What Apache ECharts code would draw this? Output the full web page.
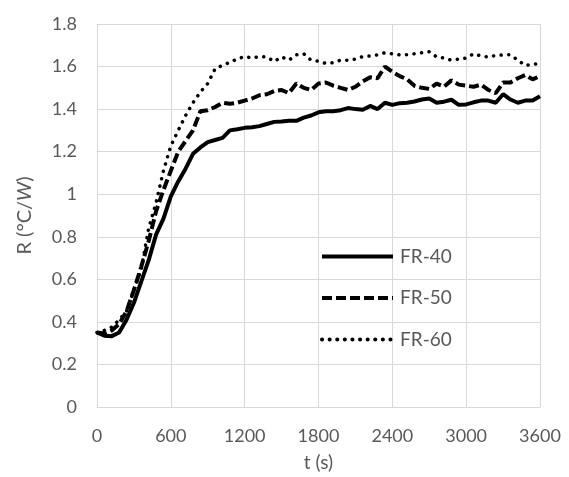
<!DOCTYPE html>
<html>
<head>
<meta charset="utf-8">
<script src="https://cdn.jsdelivr.net/npm/echarts@6/dist/echarts.min.js"></script>
<style>
  html, body { margin: 0; padding: 0; background: #fff; }
  #main { width: 569px; height: 477px; }
</style>
</head>
<body>
<div id="main"></div>
<script>
// time steps (s), one reading every 60 s
let times = [];
for (let t = 0; t <= 3600; t += 60) times.push(t);

let fr40 = [0.35, 0.335, 0.333, 0.35, 0.41, 0.49, 0.59, 0.69, 0.81, 0.885, 0.99, 1.06, 1.12, 1.19, 1.22, 1.245,
    1.255, 1.265, 1.30, 1.305, 1.312, 1.315, 1.32, 1.33, 1.34, 1.342, 1.345, 1.345, 1.36, 1.37, 1.385,
    1.39, 1.39, 1.395, 1.405, 1.40, 1.397, 1.415, 1.40, 1.43, 1.42, 1.428, 1.43, 1.436, 1.445, 1.45,
    1.43, 1.435, 1.444, 1.42, 1.422, 1.432, 1.44, 1.44, 1.43, 1.47, 1.445, 1.43, 1.44, 1.44, 1.46];
let fr50 = [0.35, 0.345, 0.36, 0.39, 0.45, 0.55, 0.66, 0.78, 0.92, 1.02, 1.11, 1.20, 1.25, 1.30, 1.39, 1.395,
    1.41, 1.43, 1.425, 1.43, 1.44, 1.45, 1.465, 1.47, 1.485, 1.49, 1.475, 1.52, 1.50, 1.49, 1.52,
    1.525, 1.51, 1.50, 1.49, 1.505, 1.53, 1.55, 1.545, 1.60, 1.575, 1.555, 1.54, 1.51, 1.50, 1.495,
    1.52, 1.505, 1.535, 1.515, 1.51, 1.505, 1.515, 1.49, 1.475, 1.525, 1.525, 1.545, 1.56, 1.54, 1.555];
let fr60 = [0.35, 0.36, 0.375, 0.41, 0.45, 0.55, 0.65, 0.84, 0.96, 1.11, 1.227, 1.30, 1.37, 1.43, 1.48, 1.52,
    1.59, 1.605, 1.62, 1.635, 1.647, 1.64, 1.647, 1.645, 1.624, 1.645, 1.63, 1.655, 1.66, 1.63, 1.625,
    1.615, 1.618, 1.63, 1.63, 1.635, 1.647, 1.65, 1.655, 1.665, 1.66, 1.655, 1.655, 1.66, 1.665, 1.67,
    1.645, 1.64, 1.63, 1.635, 1.64, 1.66, 1.65, 1.645, 1.652, 1.655, 1.655, 1.63, 1.605, 1.61, 1.615];

let seriesNames = ['FR-40', 'FR-50', 'FR-60'];

function pairs(vals) {
    return times.map((t, i) => [t, vals[i]]);
}

let myChart = echarts.init(document.getElementById('main'));
let font = 'Lato, "Open Sans", sans-serif';
let textColor = '#595959';
let gridColor = '#d9d9d9';

let option = {
    backgroundColor: '#fff',
    animation: false,
    grid: { left: 97, right: 29, top: 24, bottom: 69 },
    legend: {
        orient: 'vertical',
        left: 315,
        top: 242,
        itemWidth: 71,
        itemHeight: 20,
        itemGap: 22.5,
        data: seriesNames,
        itemStyle: { opacity: 0 },
        lineStyle: { width: 4 },
        textStyle: { color: textColor, fontSize: 19, fontFamily: font, padding: [0, 0, 0, 2] }
    },
    xAxis: {
        type: 'value',
        min: 0,
        max: 3600,
        interval: 600,
        name: 't (s)',
        nameLocation: 'middle',
        nameGap: 46,
        nameTextStyle: { color: textColor, fontSize: 19, fontFamily: font },
        axisLine: { show: true, lineStyle: { color: gridColor, width: 1 } },
        axisTick: { show: false },
        axisLabel: { color: textColor, fontSize: 18, fontFamily: font, margin: 20, formatter: v => String(v) },
        splitLine: { show: true, lineStyle: { color: gridColor, width: 1 } }
    },
    yAxis: {
        type: 'value',
        min: 0,
        max: 1.8,
        interval: 0.2,
        name: 'R (°C/{i|W})',
        nameLocation: 'middle',
        nameGap: 62,
        nameTextStyle: {
            color: textColor, fontSize: 20, fontFamily: font,
            rich: { i: { fontStyle: 'italic', color: textColor, fontSize: 20, fontFamily: font } }
        },
        axisLine: { show: false },
        axisTick: { show: false },
        axisLabel: { color: textColor, fontSize: 18, fontFamily: font, margin: 20 },
        splitLine: { show: true, lineStyle: { color: gridColor, width: 1 } }
    },
    series: [
        {
            name: 'FR-40', type: 'line', showSymbol: false, symbol: 'none',
            data: pairs(fr40),
            lineStyle: { color: '#000', width: 4, type: 'solid' },
            itemStyle: { color: '#000' }
        },
        {
            name: 'FR-50', type: 'line', showSymbol: false, symbol: 'none',
            data: pairs(fr50),
            lineStyle: { color: '#000', width: 4, type: [10, 4] },
            itemStyle: { color: '#000' }
        },
        {
            name: 'FR-60', type: 'line', showSymbol: false, symbol: 'none',
            data: pairs(fr60),
            lineStyle: { color: '#000', width: 3.5, type: [0.1, 7.5], cap: 'round' },
            itemStyle: { color: '#000' }
        }
    ]
};
myChart.setOption(option);
</script>
</body>
</html>
